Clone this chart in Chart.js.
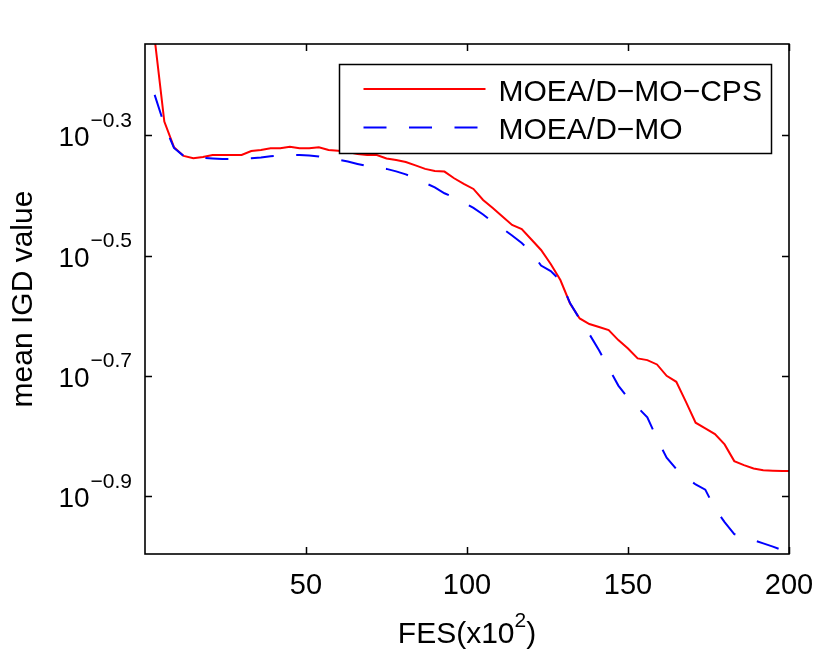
<!DOCTYPE html>
<html>
<head>
<meta charset="utf-8">
<title>mean IGD value</title>
<script src="https://cdn.jsdelivr.net/npm/chart.js@4.4.1/dist/chart.umd.min.js"></script>
<style>
  html, body { margin: 0; padding: 0; background: #fff; }
  #wrap { width: 830px; height: 650px; }
</style>
</head>
<body>
<div id="wrap"><canvas id="igdChart" width="830" height="650"></canvas></div>
<script>
// FES (x10^2) sample points
const fes = [3, 6, 9, 12, 15, 18, 21, 24, 27, 30, 33, 36, 39, 42, 45, 48, 51, 54, 57, 60,
  63, 66, 69, 72, 75, 78, 81, 84, 87, 90, 93, 96, 99, 102, 105, 108, 111, 114, 117, 120,
  123, 126, 129, 132, 135, 138, 141, 144, 147, 150, 153, 156, 159, 162, 165, 168, 171, 174, 177, 180,
  183, 186, 189, 192, 195, 198, 200];

// mean IGD, MOEA/D-MO-CPS
const cpsIgd = [0.7261, 0.5284, 0.4791, 0.4633, 0.4593, 0.4615, 0.4651, 0.4651, 0.4651, 0.4651,
  0.4722, 0.4741, 0.4771, 0.4771, 0.4801, 0.4771, 0.4771, 0.4790, 0.4741, 0.4728,
  0.4704, 0.4669, 0.4651, 0.4651, 0.4589, 0.4562, 0.4528, 0.4468, 0.4409, 0.4375,
  0.4364, 0.4254, 0.4162, 0.4083, 0.3915, 0.3797, 0.3675, 0.3557, 0.3503, 0.3365,
  0.3232, 0.3063, 0.2881, 0.2634, 0.2487, 0.2434, 0.2406, 0.2378, 0.2289, 0.2217,
  0.2134, 0.2120, 0.2085, 0.1996, 0.1951, 0.1807, 0.1668, 0.1633, 0.1597, 0.1535,
  0.1440, 0.1418, 0.1400, 0.1391, 0.1388, 0.1386, 0.1386];

// mean IGD, MOEA/D-MO
const moIgd = [0.5853, 0.5218, 0.4777, 0.4633, 0.4598, 0.4598, 0.4589, 0.4580, 0.4580, 0.4585,
  0.4593, 0.4607, 0.4628, 0.4642, 0.4651, 0.4651, 0.4642, 0.4625, 0.4589, 0.4567,
  0.4536, 0.4494, 0.4456, 0.4430, 0.4409, 0.4367, 0.4317, 0.4252, 0.4178, 0.4107,
  0.4016, 0.3951, 0.3877, 0.3797, 0.3703, 0.3598, 0.3510, 0.3416, 0.3319, 0.3207,
  0.3045, 0.2982, 0.2875, 0.2637, 0.2481, 0.2342, 0.2201, 0.2058, 0.1923, 0.1833,
  0.1769, 0.1703, 0.1569, 0.1459, 0.1397, 0.1354, 0.1317, 0.1291, 0.1201, 0.1140,
  0.1089, 0.1076, 0.1064, 0.1051, 0.1038, 0.1024, 0.1010];

const seriesNames = ['MOEA/D\u2212MO\u2212CPS', 'MOEA/D\u2212MO'];
const xTicks = [50, 100, 150, 200];
const xTickLabels = ['50', '100', '150', '200'];
const yTickExps = [-0.9, -0.7, -0.5, -0.3];
const yTickLabels = ['\u22120.9', '\u22120.7', '\u22120.5', '\u22120.3'];
const xRange = [0, 200];
const yRange = [0.1009, 0.7113];

const FONT = '"Liberation Sans", Arial, Helvetica, sans-serif';

function pts(ys) { return fes.map((f, i) => ({ x: f, y: ys[i] })); }

// MATLAB-like frame, inward ticks, labels and legend
const matlabAxes = {
  id: 'matlabAxes',
  afterDraw(chart) {
    const { ctx, chartArea: a } = chart;
    const x = chart.scales.x, y = chart.scales.y;
    ctx.save();
    ctx.strokeStyle = '#000';
    ctx.fillStyle = '#000';

    // ticks
    ctx.lineWidth = 1.5;
    ctx.beginPath();
    xTicks.forEach(v => {
      const px = Math.round(x.getPixelForValue(v)) + 0.5;
      ctx.moveTo(px, a.bottom); ctx.lineTo(px, a.bottom - 7);
      ctx.moveTo(px, a.top); ctx.lineTo(px, a.top + 7);
    });
    yTickExps.forEach(e => {
      const py = Math.round(y.getPixelForValue(Math.pow(10, e))) + 0.5;
      ctx.moveTo(a.left, py); ctx.lineTo(a.left + 7, py);
      ctx.moveTo(a.right, py); ctx.lineTo(a.right - 7, py);
    });
    ctx.stroke();

    // frame
    ctx.lineWidth = 1.6;
    ctx.strokeRect(a.left, a.top, a.right - a.left, a.bottom - a.top);

    // x tick labels
    ctx.font = '29px ' + FONT;
    ctx.textAlign = 'center';
    ctx.textBaseline = 'alphabetic';
    xTicks.forEach((v, i) => {
      ctx.fillText(xTickLabels[i], x.getPixelForValue(v), a.bottom + 40);
    });

    // y tick labels: 10^exp
    yTickExps.forEach((e, i) => {
      const py = y.getPixelForValue(Math.pow(10, e));
      ctx.font = '21px ' + FONT;
      const supW = ctx.measureText(yTickLabels[i]).width;
      const supLeft = a.left - 13 - supW;
      ctx.textAlign = 'left';
      ctx.fillText(yTickLabels[i], supLeft, py - 8.5);
      ctx.font = '28px ' + FONT;
      ctx.textAlign = 'right';
      ctx.fillText('10', supLeft - 1, py + 11);
    });

    // x title with superscript
    const t1 = 'FES(x10', t2 = '2', t3 = ')';
    ctx.font = '30px ' + FONT;
    const w1 = ctx.measureText(t1).width, w3 = ctx.measureText(t3).width;
    ctx.font = '21px ' + FONT;
    const w2 = ctx.measureText(t2).width;
    const cx = (a.left + a.right) / 2;
    let tx = cx - (w1 + w2 + w3) / 2;
    ctx.textAlign = 'left';
    ctx.font = '30px ' + FONT;
    ctx.fillText(t1, tx, 643);
    tx += w1;
    ctx.font = '21px ' + FONT;
    ctx.fillText(t2, tx, 627);
    tx += w2;
    ctx.font = '30px ' + FONT;
    ctx.fillText(t3, tx, 643);

    // y title
    ctx.save();
    ctx.translate(32, (a.top + a.bottom) / 2);
    ctx.rotate(-Math.PI / 2);
    ctx.textAlign = 'center';
    ctx.font = '30px ' + FONT;
    ctx.fillText('mean IGD value', 0, 0);
    ctx.restore();

    // legend
    const lx = a.left + 194.5, ly = a.top + 20.5, lw = 432, lh = 89;
    ctx.fillStyle = '#fff';
    ctx.fillRect(lx, ly, lw, lh);
    ctx.lineWidth = 1.5;
    ctx.strokeStyle = '#000';
    ctx.strokeRect(lx, ly, lw, lh);
    const ds = chart.data.datasets;
    [0, 1].forEach(i => {
      const rowY = ly + 24.5 + i * 38.5;
      ctx.beginPath();
      ctx.strokeStyle = ds[i].borderColor;
      ctx.lineWidth = 2;
      ctx.setLineDash(ds[i].borderDash || []);
      ctx.moveTo(lx + 24, rowY);
      ctx.lineTo(lx + 146, rowY);
      ctx.stroke();
      ctx.setLineDash([]);
      ctx.fillStyle = '#000';
      ctx.font = '30px ' + FONT;
      ctx.textAlign = 'left';
      ctx.fillText(seriesNames[i], lx + 159, rowY + 11.5);
    });
    ctx.restore();
  }
};

new Chart(document.getElementById('igdChart'), {
  type: 'line',
  data: {
    datasets: [
      {
        label: seriesNames[0],
        data: pts(cpsIgd),
        borderColor: '#ff0000',
        borderWidth: 2,
        pointRadius: 0,
        tension: 0,
        fill: false,
        order: 2
      },
      {
        label: seriesNames[1],
        data: pts(moIgd),
        borderColor: '#0000ff',
        borderWidth: 2,
        borderDash: [23, 22.5],
        pointRadius: 0,
        tension: 0,
        fill: false,
        order: 1
      }
    ]
  },
  options: {
    responsive: false,
    animation: false,
    devicePixelRatio: 1,
    layout: { padding: { left: 145, right: 41, top: 44, bottom: 96 } },
    plugins: { legend: { display: false }, tooltip: { enabled: false }, title: { display: false } },
    scales: {
      x: { type: 'linear', min: xRange[0], max: xRange[1], display: false },
      y: { type: 'logarithmic', min: yRange[0], max: yRange[1], display: false }
    }
  },
  plugins: [matlabAxes]
});
</script>
</body>
</html>
